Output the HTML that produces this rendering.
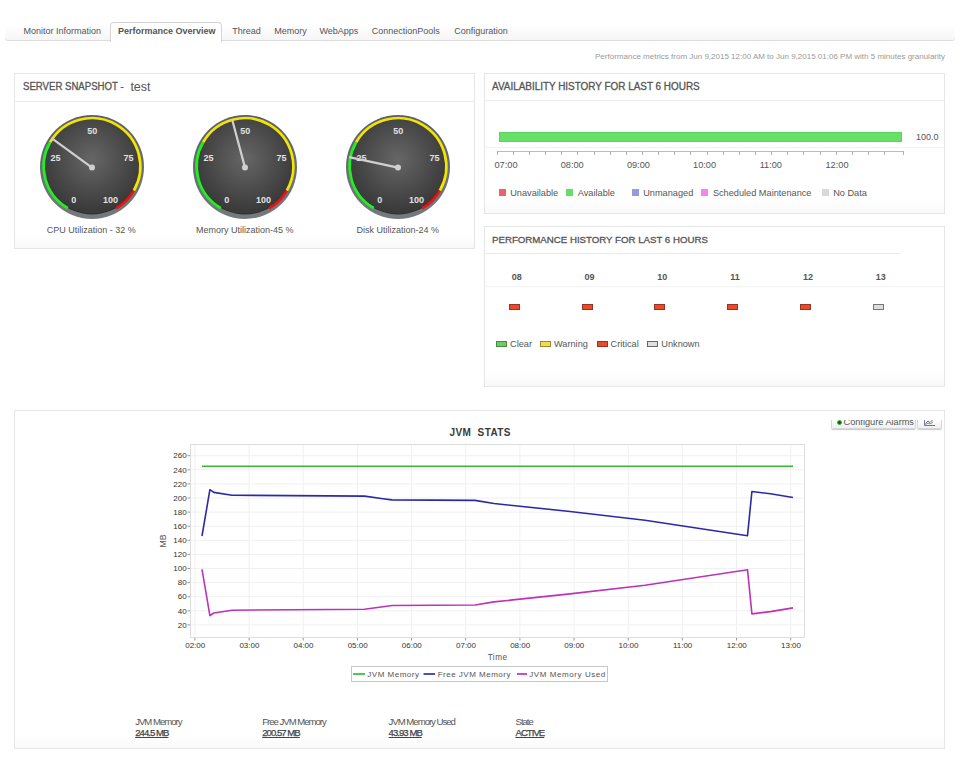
<!DOCTYPE html>
<html><head><meta charset="utf-8"><style>
html,body{margin:0;padding:0;}
body{width:965px;height:764px;position:relative;overflow:hidden;background:#fff;font-family:"Liberation Sans", sans-serif;}
.t{position:absolute;white-space:nowrap;font-family:"Liberation Sans", sans-serif;}
</style></head><body>
<div style="position:absolute;left:5px;top:27px;width:950px;height:14px;box-sizing:border-box;border-bottom:1px solid #dcdcdc;background:linear-gradient(#fdfdfd,#f6f6f6);border-radius:0 0 3px 3px"></div>
<div style="position:absolute;left:110px;top:22px;width:112px;height:20px;box-sizing:border-box;border:1px solid #d4d4d4;border-bottom:none;background:#fff;border-radius:4px 4px 0 0"></div>
<div class="t" style="left:23.5px;top:27.0px;font-size:9px;line-height:9px;color:#555;font-weight:normal;">Monitor Information</div>
<div class="t" style="left:118.0px;top:27.0px;font-size:9px;line-height:9px;color:#555;font-weight:bold;">Performance Overview</div>
<div class="t" style="left:232.2px;top:27.0px;font-size:9px;line-height:9px;color:#555;font-weight:normal;">Thread</div>
<div class="t" style="left:274.2px;top:27.0px;font-size:9px;line-height:9px;color:#555;font-weight:normal;">Memory</div>
<div class="t" style="left:319.5px;top:27.0px;font-size:9px;line-height:9px;color:#555;font-weight:normal;">WebApps</div>
<div class="t" style="left:371.8px;top:27.0px;font-size:9px;line-height:9px;color:#555;font-weight:normal;">ConnectionPools</div>
<div class="t" style="left:454.2px;top:27.0px;font-size:9px;line-height:9px;color:#555;font-weight:normal;">Configuration</div>
<div class="t" style="right:20.0px;top:52.7px;font-size:8px;line-height:8px;color:#999;font-weight:normal;">Performance metrics from Jun 9,2015 12:00 AM to Jun 9,2015 01:06 PM with 5 minutes granularity</div>
<div style="position:absolute;left:14px;top:73px;width:461px;height:176px;box-sizing:border-box;border:1px solid #e6e6e6;background:linear-gradient(#fff calc(100% - 14px),#f9f9f9)"></div>
<div style="position:absolute;left:14px;top:101px;width:461px;height:1px;box-sizing:border-box;background:#ececec"></div>
<div class="t" style="left:23.0px;top:82.1px;font-size:10px;line-height:10px;color:#555;font-weight:normal;-webkit-text-stroke:0.3px #555;transform:scaleX(0.961);transform-origin:0 0">SERVER SNAPSHOT -</div>
<div class="t" style="left:130.4px;top:80.9px;font-size:12.5px;line-height:12.5px;color:#555;font-weight:normal;">test</div>
<div style="position:absolute;left:484px;top:73px;width:461px;height:141px;box-sizing:border-box;border:1px solid #e6e6e6;background:linear-gradient(#fff calc(100% - 14px),#f9f9f9)"></div>
<div style="position:absolute;left:484px;top:100px;width:461px;height:1px;box-sizing:border-box;background:#ececec"></div>
<div class="t" style="left:491.5px;top:82.0px;font-size:10px;line-height:10px;color:#555;font-weight:normal;-webkit-text-stroke:0.3px #555;transform:scaleX(0.992);transform-origin:0 0">AVAILABILITY HISTORY FOR LAST 6 HOURS</div>
<div style="position:absolute;left:484px;top:226px;width:461px;height:161px;box-sizing:border-box;border:1px solid #e6e6e6;background:linear-gradient(#fff calc(100% - 14px),#f9f9f9)"></div>
<div style="position:absolute;left:484px;top:253px;width:416px;height:1px;box-sizing:border-box;background:#ececec"></div>
<div style="position:absolute;left:485px;top:286px;width:459px;height:1px;box-sizing:border-box;background:#f3f3f3"></div>
<div class="t" style="left:491.5px;top:234.5px;font-size:9.6px;line-height:9.6px;color:#555;font-weight:normal;-webkit-text-stroke:0.3px #555;transform:scaleX(1.008);transform-origin:0 0">PERFORMANCE HISTORY FOR LAST 6 HOURS</div>
<div style="position:absolute;left:14px;top:410px;width:931px;height:339px;box-sizing:border-box;border:1px solid #e6e6e6;background:linear-gradient(#fff calc(100% - 14px),#f9f9f9)"></div>
<svg style="position:absolute;left:32px;top:107px" width="120" height="120" viewBox="32 107 120 120"><defs><radialGradient id="g92" cx="92" cy="159" r="52" gradientUnits="userSpaceOnUse"><stop offset="0" stop-color="#666"/><stop offset="1" stop-color="#3a3a3a"/></radialGradient><linearGradient id="r92" x1="0" y1="0" x2="0" y2="1"><stop offset="0" stop-color="#5c5c6a"/><stop offset="1" stop-color="#767a7c"/></linearGradient></defs><circle cx="92" cy="167" r="52" fill="url(#r92)"/><circle cx="92" cy="166.4" r="48.1" fill="#2e2e30"/><circle cx="92" cy="166.4" r="47.1" fill="url(#g92)"/><path d="M67.85,208.23 A48.3,48.3 0 0 1 50.17,142.25" fill="none" stroke="#22ee22" stroke-width="2.7"/><path d="M50.17,142.25 A48.3,48.3 0 0 1 133.83,190.55" fill="none" stroke="#f2e600" stroke-width="2.7"/><path d="M133.83,190.55 A48.3,48.3 0 0 1 116.15,208.23" fill="none" stroke="#ee1111" stroke-width="2.7"/><text x="73.7" y="202.9" text-anchor="middle" font-family="Liberation Sans" font-weight="bold" font-size="9" fill="#e2e2e2">0</text><text x="55.6" y="161.3" text-anchor="middle" font-family="Liberation Sans" font-weight="bold" font-size="9" fill="#e2e2e2">25</text><text x="92.2" y="134.1" text-anchor="middle" font-family="Liberation Sans" font-weight="bold" font-size="9" fill="#e2e2e2">50</text><text x="128.4" y="161.3" text-anchor="middle" font-family="Liberation Sans" font-weight="bold" font-size="9" fill="#e2e2e2">75</text><text x="110.6" y="202.9" text-anchor="middle" font-family="Liberation Sans" font-weight="bold" font-size="9" fill="#e2e2e2">100</text><line x1="92" y1="167.6" x2="51.55" y2="138.21" stroke="#d0d0d0" stroke-width="2.2"/><circle cx="92" cy="167.6" r="3" fill="#d0d0d0"/></svg>
<svg style="position:absolute;left:184.6px;top:107px" width="120" height="120" viewBox="184.6 107 120 120"><defs><radialGradient id="g244" cx="244.6" cy="159" r="52" gradientUnits="userSpaceOnUse"><stop offset="0" stop-color="#666"/><stop offset="1" stop-color="#3a3a3a"/></radialGradient><linearGradient id="r244" x1="0" y1="0" x2="0" y2="1"><stop offset="0" stop-color="#5c5c6a"/><stop offset="1" stop-color="#767a7c"/></linearGradient></defs><circle cx="244.6" cy="167" r="52" fill="url(#r244)"/><circle cx="244.6" cy="166.4" r="48.1" fill="#2e2e30"/><circle cx="244.6" cy="166.4" r="47.1" fill="url(#g244)"/><path d="M220.45,208.23 A48.3,48.3 0 0 1 202.77,142.25" fill="none" stroke="#22ee22" stroke-width="2.7"/><path d="M202.77,142.25 A48.3,48.3 0 0 1 286.43,190.55" fill="none" stroke="#f2e600" stroke-width="2.7"/><path d="M286.43,190.55 A48.3,48.3 0 0 1 268.75,208.23" fill="none" stroke="#ee1111" stroke-width="2.7"/><text x="226.3" y="202.9" text-anchor="middle" font-family="Liberation Sans" font-weight="bold" font-size="9" fill="#e2e2e2">0</text><text x="208.2" y="161.3" text-anchor="middle" font-family="Liberation Sans" font-weight="bold" font-size="9" fill="#e2e2e2">25</text><text x="244.8" y="134.1" text-anchor="middle" font-family="Liberation Sans" font-weight="bold" font-size="9" fill="#e2e2e2">50</text><text x="281.0" y="161.3" text-anchor="middle" font-family="Liberation Sans" font-weight="bold" font-size="9" fill="#e2e2e2">75</text><text x="263.2" y="202.9" text-anchor="middle" font-family="Liberation Sans" font-weight="bold" font-size="9" fill="#e2e2e2">100</text><line x1="244.6" y1="167.6" x2="231.66" y2="119.30" stroke="#d0d0d0" stroke-width="2.2"/><circle cx="244.6" cy="167.6" r="3" fill="#d0d0d0"/></svg>
<svg style="position:absolute;left:337.8px;top:107px" width="120" height="120" viewBox="337.8 107 120 120"><defs><radialGradient id="g397" cx="397.8" cy="159" r="52" gradientUnits="userSpaceOnUse"><stop offset="0" stop-color="#666"/><stop offset="1" stop-color="#3a3a3a"/></radialGradient><linearGradient id="r397" x1="0" y1="0" x2="0" y2="1"><stop offset="0" stop-color="#5c5c6a"/><stop offset="1" stop-color="#767a7c"/></linearGradient></defs><circle cx="397.8" cy="167" r="52" fill="url(#r397)"/><circle cx="397.8" cy="166.4" r="48.1" fill="#2e2e30"/><circle cx="397.8" cy="166.4" r="47.1" fill="url(#g397)"/><path d="M373.65,208.23 A48.3,48.3 0 0 1 355.97,142.25" fill="none" stroke="#22ee22" stroke-width="2.7"/><path d="M355.97,142.25 A48.3,48.3 0 0 1 439.63,190.55" fill="none" stroke="#f2e600" stroke-width="2.7"/><path d="M439.63,190.55 A48.3,48.3 0 0 1 421.95,208.23" fill="none" stroke="#ee1111" stroke-width="2.7"/><text x="379.5" y="202.9" text-anchor="middle" font-family="Liberation Sans" font-weight="bold" font-size="9" fill="#e2e2e2">0</text><text x="361.4" y="161.3" text-anchor="middle" font-family="Liberation Sans" font-weight="bold" font-size="9" fill="#e2e2e2">25</text><text x="398.0" y="134.1" text-anchor="middle" font-family="Liberation Sans" font-weight="bold" font-size="9" fill="#e2e2e2">50</text><text x="434.2" y="161.3" text-anchor="middle" font-family="Liberation Sans" font-weight="bold" font-size="9" fill="#e2e2e2">75</text><text x="416.4" y="202.9" text-anchor="middle" font-family="Liberation Sans" font-weight="bold" font-size="9" fill="#e2e2e2">100</text><line x1="397.8" y1="167.6" x2="348.89" y2="157.20" stroke="#d0d0d0" stroke-width="2.2"/><circle cx="397.8" cy="167.6" r="3" fill="#d0d0d0"/></svg>
<div class="t" style="left:-108.8px;width:400px;text-align:center;top:226.2px;font-size:9px;line-height:9px;color:#555;font-weight:normal;">CPU Utilization - 32 %</div>
<div class="t" style="left:44.8px;width:400px;text-align:center;top:226.2px;font-size:9px;line-height:9px;color:#555;font-weight:normal;">Memory Utilization-45 %</div>
<div class="t" style="left:197.8px;width:400px;text-align:center;top:226.2px;font-size:9px;line-height:9px;color:#555;font-weight:normal;">Disk Utilization-24 %</div>
<div style="position:absolute;left:499px;top:132px;width:403px;height:10px;box-sizing:border-box;background:#66e066;border:1px solid #5cd55c"></div>
<div class="t" style="left:916.0px;top:132.6px;font-size:9px;line-height:9px;color:#555;font-weight:normal;">100.0</div>
<div style="position:absolute;left:485px;top:147px;width:459px;height:1px;box-sizing:border-box;background:#f2f2f2"></div>
<div style="position:absolute;left:497px;top:151px;width:407px;height:1px;box-sizing:border-box;background:#b9b9c9"></div>
<div style="position:absolute;left:496.60px;top:151px;width:1px;height:4px;background:#b0b0b0"></div>
<div style="position:absolute;left:512.75px;top:151px;width:1px;height:4px;background:#b0b0b0"></div>
<div style="position:absolute;left:528.90px;top:151px;width:1px;height:4px;background:#b0b0b0"></div>
<div style="position:absolute;left:545.05px;top:151px;width:1px;height:4px;background:#b0b0b0"></div>
<div style="position:absolute;left:561.20px;top:151px;width:1px;height:4px;background:#b0b0b0"></div>
<div style="position:absolute;left:577.35px;top:151px;width:1px;height:4px;background:#b0b0b0"></div>
<div style="position:absolute;left:593.50px;top:151px;width:1px;height:4px;background:#b0b0b0"></div>
<div style="position:absolute;left:609.65px;top:151px;width:1px;height:4px;background:#b0b0b0"></div>
<div style="position:absolute;left:625.80px;top:151px;width:1px;height:4px;background:#b0b0b0"></div>
<div style="position:absolute;left:641.95px;top:151px;width:1px;height:4px;background:#b0b0b0"></div>
<div style="position:absolute;left:658.10px;top:151px;width:1px;height:4px;background:#b0b0b0"></div>
<div style="position:absolute;left:674.25px;top:151px;width:1px;height:4px;background:#b0b0b0"></div>
<div style="position:absolute;left:690.40px;top:151px;width:1px;height:4px;background:#b0b0b0"></div>
<div style="position:absolute;left:706.55px;top:151px;width:1px;height:4px;background:#b0b0b0"></div>
<div style="position:absolute;left:722.70px;top:151px;width:1px;height:4px;background:#b0b0b0"></div>
<div style="position:absolute;left:738.85px;top:151px;width:1px;height:4px;background:#b0b0b0"></div>
<div style="position:absolute;left:755.00px;top:151px;width:1px;height:4px;background:#b0b0b0"></div>
<div style="position:absolute;left:771.15px;top:151px;width:1px;height:4px;background:#b0b0b0"></div>
<div style="position:absolute;left:787.30px;top:151px;width:1px;height:4px;background:#b0b0b0"></div>
<div style="position:absolute;left:803.45px;top:151px;width:1px;height:4px;background:#b0b0b0"></div>
<div style="position:absolute;left:819.60px;top:151px;width:1px;height:4px;background:#b0b0b0"></div>
<div style="position:absolute;left:835.75px;top:151px;width:1px;height:4px;background:#b0b0b0"></div>
<div style="position:absolute;left:851.90px;top:151px;width:1px;height:4px;background:#b0b0b0"></div>
<div style="position:absolute;left:868.05px;top:151px;width:1px;height:4px;background:#b0b0b0"></div>
<div style="position:absolute;left:884.20px;top:151px;width:1px;height:4px;background:#b0b0b0"></div>
<div style="position:absolute;left:903px;top:151px;width:1px;height:4px;box-sizing:border-box;background:#b0b0b0"></div>
<div class="t" style="left:306.0px;width:400px;text-align:center;top:160.8px;font-size:9.2px;line-height:9.2px;color:#555;font-weight:normal;">07:00</div>
<div class="t" style="left:372.2px;width:400px;text-align:center;top:160.8px;font-size:9.2px;line-height:9.2px;color:#555;font-weight:normal;">08:00</div>
<div class="t" style="left:438.4px;width:400px;text-align:center;top:160.8px;font-size:9.2px;line-height:9.2px;color:#555;font-weight:normal;">09:00</div>
<div class="t" style="left:504.6px;width:400px;text-align:center;top:160.8px;font-size:9.2px;line-height:9.2px;color:#555;font-weight:normal;">10:00</div>
<div class="t" style="left:570.8px;width:400px;text-align:center;top:160.8px;font-size:9.2px;line-height:9.2px;color:#555;font-weight:normal;">11:00</div>
<div class="t" style="left:637.0px;width:400px;text-align:center;top:160.8px;font-size:9.2px;line-height:9.2px;color:#555;font-weight:normal;">12:00</div>
<div style="position:absolute;left:499px;top:189px;width:7px;height:7px;box-sizing:border-box;background:#e8636b"></div>
<div class="t" style="left:510.2px;top:188.6px;font-size:9.2px;line-height:9.2px;color:#555;font-weight:normal;">Unavailable</div>
<div style="position:absolute;left:566px;top:189px;width:7px;height:7px;box-sizing:border-box;background:#66dd66"></div>
<div class="t" style="left:577.8px;top:188.6px;font-size:9.2px;line-height:9.2px;color:#555;font-weight:normal;">Available</div>
<div style="position:absolute;left:632px;top:189px;width:7px;height:7px;box-sizing:border-box;background:#9999dd"></div>
<div class="t" style="left:643.2px;top:188.6px;font-size:9.2px;line-height:9.2px;color:#555;font-weight:normal;">Unmanaged</div>
<div style="position:absolute;left:701px;top:189px;width:7px;height:7px;box-sizing:border-box;background:#ee88ee"></div>
<div class="t" style="left:712.9px;top:188.6px;font-size:9.2px;line-height:9.2px;color:#555;font-weight:normal;">Scheduled Maintenance</div>
<div style="position:absolute;left:822px;top:189px;width:7px;height:7px;box-sizing:border-box;background:#d9d9d9"></div>
<div class="t" style="left:833.2px;top:188.6px;font-size:9.2px;line-height:9.2px;color:#555;font-weight:normal;">No Data</div>
<div class="t" style="left:316.7px;width:400px;text-align:center;top:273.0px;font-size:9px;line-height:9px;color:#555;font-weight:bold;">08</div>
<div class="t" style="left:389.5px;width:400px;text-align:center;top:273.0px;font-size:9px;line-height:9px;color:#555;font-weight:bold;">09</div>
<div class="t" style="left:462.3px;width:400px;text-align:center;top:273.0px;font-size:9px;line-height:9px;color:#555;font-weight:bold;">10</div>
<div class="t" style="left:535.1px;width:400px;text-align:center;top:273.0px;font-size:9px;line-height:9px;color:#555;font-weight:bold;">11</div>
<div class="t" style="left:607.9px;width:400px;text-align:center;top:273.0px;font-size:9px;line-height:9px;color:#555;font-weight:bold;">12</div>
<div class="t" style="left:680.7px;width:400px;text-align:center;top:273.0px;font-size:9px;line-height:9px;color:#555;font-weight:bold;">13</div>
<div style="position:absolute;left:509px;top:304px;width:11px;height:6px;box-sizing:border-box;background:#e84a2a;border:1px solid #993322"></div>
<div style="position:absolute;left:582px;top:304px;width:11px;height:6px;box-sizing:border-box;background:#e84a2a;border:1px solid #993322"></div>
<div style="position:absolute;left:654px;top:304px;width:11px;height:6px;box-sizing:border-box;background:#e84a2a;border:1px solid #993322"></div>
<div style="position:absolute;left:727px;top:304px;width:11px;height:6px;box-sizing:border-box;background:#e84a2a;border:1px solid #993322"></div>
<div style="position:absolute;left:800px;top:304px;width:11px;height:6px;box-sizing:border-box;background:#e84a2a;border:1px solid #993322"></div>
<div style="position:absolute;left:873px;top:304px;width:11px;height:6px;box-sizing:border-box;background:#dddddd;border:1px solid #777"></div>
<div style="position:absolute;left:496px;top:341px;width:11px;height:6px;box-sizing:border-box;background:#77c766;border:1px solid #3f8f3f"></div>
<div class="t" style="left:510.0px;top:339.5px;font-size:9.2px;line-height:9.2px;color:#555;font-weight:normal;">Clear</div>
<div style="position:absolute;left:540px;top:341px;width:11px;height:6px;box-sizing:border-box;background:#f5d955;border:1px solid #a08a2a"></div>
<div class="t" style="left:554.0px;top:339.5px;font-size:9.2px;line-height:9.2px;color:#555;font-weight:normal;">Warning</div>
<div style="position:absolute;left:597px;top:341px;width:11px;height:6px;box-sizing:border-box;background:#e84a2a;border:1px solid #993322"></div>
<div class="t" style="left:610.6px;top:339.5px;font-size:9.2px;line-height:9.2px;color:#555;font-weight:normal;">Critical</div>
<div style="position:absolute;left:647px;top:341px;width:11px;height:6px;box-sizing:border-box;background:#e0e0e0;border:1px solid #666"></div>
<div class="t" style="left:661.3px;top:339.5px;font-size:9.2px;line-height:9.2px;color:#555;font-weight:normal;">Unknown</div>
<div class="t" style="left:280.2px;width:400px;text-align:center;top:427.8px;font-size:10px;line-height:10px;color:#3a3a3a;font-weight:bold;letter-spacing:0.4px">JVM&nbsp; STATS</div>
<div style="position:absolute;left:831px;top:420px;width:83px;height:8px;overflow:hidden;border:1px solid #d8d8d8;border-top:none;border-radius:0 0 2px 2px;box-shadow:0 1px 1px #c8c8c8;background:linear-gradient(#fff,#f0f0f0)"><div style="position:absolute;left:5px;top:0px;width:3px;height:3px;border-radius:50%;background:#1e5a1e;border:0.5px solid #3a3"></div><div class="t" style="left:11.5px;top:-2.2px;font-size:9.2px;line-height:9px;color:#555">Configure Alarms</div></div>
<div style="position:absolute;left:917px;top:420px;width:23px;height:8px;overflow:hidden;border:1px solid #d8d8d8;border-top:none;border-radius:0 0 2px 2px;box-shadow:0 1px 1px #c8c8c8;background:linear-gradient(#fff,#f0f0f0)"><svg style="position:absolute;left:6px;top:-1px" width="11" height="7"><polyline points="0.5,0 0.5,6.5 11,6.5" fill="none" stroke="#5a7aa8" stroke-width="1"/><polyline points="1.5,4.5 4,2 6,3.5 9,0.5" fill="none" stroke="#c05050" stroke-width="1"/><polyline points="1.5,5.5 4,4 6,5 9,3" fill="none" stroke="#40a0a0" stroke-width="1"/></svg></div>
<svg style="position:absolute;left:0;top:0" width="965" height="764"><line x1="190.5" y1="624.9" x2="804.5" y2="624.9" stroke="#f0f0f0" stroke-width="1"/><line x1="187.5" y1="624.9" x2="190.5" y2="624.9" stroke="#999" stroke-width="1"/><line x1="190.5" y1="610.8" x2="804.5" y2="610.8" stroke="#f0f0f0" stroke-width="1"/><line x1="187.5" y1="610.8" x2="190.5" y2="610.8" stroke="#999" stroke-width="1"/><line x1="190.5" y1="596.7" x2="804.5" y2="596.7" stroke="#f0f0f0" stroke-width="1"/><line x1="187.5" y1="596.7" x2="190.5" y2="596.7" stroke="#999" stroke-width="1"/><line x1="190.5" y1="582.6" x2="804.5" y2="582.6" stroke="#f0f0f0" stroke-width="1"/><line x1="187.5" y1="582.6" x2="190.5" y2="582.6" stroke="#999" stroke-width="1"/><line x1="190.5" y1="568.5" x2="804.5" y2="568.5" stroke="#f0f0f0" stroke-width="1"/><line x1="187.5" y1="568.5" x2="190.5" y2="568.5" stroke="#999" stroke-width="1"/><line x1="190.5" y1="554.4" x2="804.5" y2="554.4" stroke="#f0f0f0" stroke-width="1"/><line x1="187.5" y1="554.4" x2="190.5" y2="554.4" stroke="#999" stroke-width="1"/><line x1="190.5" y1="540.3" x2="804.5" y2="540.3" stroke="#f0f0f0" stroke-width="1"/><line x1="187.5" y1="540.3" x2="190.5" y2="540.3" stroke="#999" stroke-width="1"/><line x1="190.5" y1="526.2" x2="804.5" y2="526.2" stroke="#f0f0f0" stroke-width="1"/><line x1="187.5" y1="526.2" x2="190.5" y2="526.2" stroke="#999" stroke-width="1"/><line x1="190.5" y1="512.1" x2="804.5" y2="512.1" stroke="#f0f0f0" stroke-width="1"/><line x1="187.5" y1="512.1" x2="190.5" y2="512.1" stroke="#999" stroke-width="1"/><line x1="190.5" y1="498.0" x2="804.5" y2="498.0" stroke="#f0f0f0" stroke-width="1"/><line x1="187.5" y1="498.0" x2="190.5" y2="498.0" stroke="#999" stroke-width="1"/><line x1="190.5" y1="483.9" x2="804.5" y2="483.9" stroke="#f0f0f0" stroke-width="1"/><line x1="187.5" y1="483.9" x2="190.5" y2="483.9" stroke="#999" stroke-width="1"/><line x1="190.5" y1="469.8" x2="804.5" y2="469.8" stroke="#f0f0f0" stroke-width="1"/><line x1="187.5" y1="469.8" x2="190.5" y2="469.8" stroke="#999" stroke-width="1"/><line x1="190.5" y1="455.7" x2="804.5" y2="455.7" stroke="#f0f0f0" stroke-width="1"/><line x1="187.5" y1="455.7" x2="190.5" y2="455.7" stroke="#999" stroke-width="1"/><line x1="194.9" y1="444.5" x2="194.9" y2="637.5" stroke="#f0f0f0" stroke-width="1"/><line x1="194.9" y1="637.5" x2="194.9" y2="640.5" stroke="#999" stroke-width="1"/><line x1="249.1" y1="444.5" x2="249.1" y2="637.5" stroke="#f0f0f0" stroke-width="1"/><line x1="249.1" y1="637.5" x2="249.1" y2="640.5" stroke="#999" stroke-width="1"/><line x1="303.2" y1="444.5" x2="303.2" y2="637.5" stroke="#f0f0f0" stroke-width="1"/><line x1="303.2" y1="637.5" x2="303.2" y2="640.5" stroke="#999" stroke-width="1"/><line x1="357.4" y1="444.5" x2="357.4" y2="637.5" stroke="#f0f0f0" stroke-width="1"/><line x1="357.4" y1="637.5" x2="357.4" y2="640.5" stroke="#999" stroke-width="1"/><line x1="411.5" y1="444.5" x2="411.5" y2="637.5" stroke="#f0f0f0" stroke-width="1"/><line x1="411.5" y1="637.5" x2="411.5" y2="640.5" stroke="#999" stroke-width="1"/><line x1="465.7" y1="444.5" x2="465.7" y2="637.5" stroke="#f0f0f0" stroke-width="1"/><line x1="465.7" y1="637.5" x2="465.7" y2="640.5" stroke="#999" stroke-width="1"/><line x1="519.9" y1="444.5" x2="519.9" y2="637.5" stroke="#f0f0f0" stroke-width="1"/><line x1="519.9" y1="637.5" x2="519.9" y2="640.5" stroke="#999" stroke-width="1"/><line x1="574.0" y1="444.5" x2="574.0" y2="637.5" stroke="#f0f0f0" stroke-width="1"/><line x1="574.0" y1="637.5" x2="574.0" y2="640.5" stroke="#999" stroke-width="1"/><line x1="628.2" y1="444.5" x2="628.2" y2="637.5" stroke="#f0f0f0" stroke-width="1"/><line x1="628.2" y1="637.5" x2="628.2" y2="640.5" stroke="#999" stroke-width="1"/><line x1="682.3" y1="444.5" x2="682.3" y2="637.5" stroke="#f0f0f0" stroke-width="1"/><line x1="682.3" y1="637.5" x2="682.3" y2="640.5" stroke="#999" stroke-width="1"/><line x1="736.5" y1="444.5" x2="736.5" y2="637.5" stroke="#f0f0f0" stroke-width="1"/><line x1="736.5" y1="637.5" x2="736.5" y2="640.5" stroke="#999" stroke-width="1"/><line x1="790.7" y1="444.5" x2="790.7" y2="637.5" stroke="#f0f0f0" stroke-width="1"/><line x1="790.7" y1="637.5" x2="790.7" y2="640.5" stroke="#999" stroke-width="1"/><rect x="190.5" y="444.5" width="614.0" height="193.0" fill="none" stroke="#dddddd" stroke-width="1"/><line x1="202" y1="466.3" x2="793" y2="466.3" stroke="#33bb33" stroke-width="1.6"/><polyline fill="none" stroke="#2a2aa8" stroke-width="1.6" stroke-linejoin="round" points="202.0,536.0 209.9,489.7 213.8,492.4 232.0,495.2 364.5,496.1 383.0,498.7 392.0,499.9 475.0,500.4 494.0,503.5 570.0,511.5 645.0,520.2 747.5,535.7 751.9,491.5 770.4,493.8 793.0,497.5"/><polyline fill="none" stroke="#bb33bb" stroke-width="1.6" stroke-linejoin="round" points="202.0,569.4 209.9,615.7 213.8,613.0 232.0,610.2 364.5,609.3 383.0,606.7 392.0,605.5 475.0,605.0 494.0,601.9 570.0,593.9 645.0,585.2 747.5,569.7 751.9,613.9 770.4,611.6 793.0,607.9"/><rect x="351.5" y="666.5" width="256" height="15" fill="#fff" stroke="#c8c8c8" stroke-width="1"/><line x1="353" y1="674" x2="365" y2="674" stroke="#22bb22" stroke-width="1.6"/><line x1="423.5" y1="674" x2="435" y2="674" stroke="#2222aa" stroke-width="1.6"/><line x1="517" y1="674" x2="527" y2="674" stroke="#bb22bb" stroke-width="1.6"/></svg>
<div class="t" style="right:778.4px;top:621.6px;font-size:8px;line-height:8px;color:#333;font-weight:normal;font-family:"Liberation Mono",monospace;letter-spacing:0.55px">20</div>
<div class="t" style="right:778.4px;top:607.5px;font-size:8px;line-height:8px;color:#333;font-weight:normal;font-family:"Liberation Mono",monospace;letter-spacing:0.55px">40</div>
<div class="t" style="right:778.4px;top:593.4px;font-size:8px;line-height:8px;color:#333;font-weight:normal;font-family:"Liberation Mono",monospace;letter-spacing:0.55px">60</div>
<div class="t" style="right:778.4px;top:579.3px;font-size:8px;line-height:8px;color:#333;font-weight:normal;font-family:"Liberation Mono",monospace;letter-spacing:0.55px">80</div>
<div class="t" style="right:778.4px;top:565.2px;font-size:8px;line-height:8px;color:#333;font-weight:normal;font-family:"Liberation Mono",monospace;letter-spacing:0.55px">100</div>
<div class="t" style="right:778.4px;top:551.1px;font-size:8px;line-height:8px;color:#333;font-weight:normal;font-family:"Liberation Mono",monospace;letter-spacing:0.55px">120</div>
<div class="t" style="right:778.4px;top:537.0px;font-size:8px;line-height:8px;color:#333;font-weight:normal;font-family:"Liberation Mono",monospace;letter-spacing:0.55px">140</div>
<div class="t" style="right:778.4px;top:522.9px;font-size:8px;line-height:8px;color:#333;font-weight:normal;font-family:"Liberation Mono",monospace;letter-spacing:0.55px">160</div>
<div class="t" style="right:778.4px;top:508.8px;font-size:8px;line-height:8px;color:#333;font-weight:normal;font-family:"Liberation Mono",monospace;letter-spacing:0.55px">180</div>
<div class="t" style="right:778.4px;top:494.7px;font-size:8px;line-height:8px;color:#333;font-weight:normal;font-family:"Liberation Mono",monospace;letter-spacing:0.55px">200</div>
<div class="t" style="right:778.4px;top:480.6px;font-size:8px;line-height:8px;color:#333;font-weight:normal;font-family:"Liberation Mono",monospace;letter-spacing:0.55px">220</div>
<div class="t" style="right:778.4px;top:466.5px;font-size:8px;line-height:8px;color:#333;font-weight:normal;font-family:"Liberation Mono",monospace;letter-spacing:0.55px">240</div>
<div class="t" style="right:778.4px;top:452.4px;font-size:8px;line-height:8px;color:#333;font-weight:normal;font-family:"Liberation Mono",monospace;letter-spacing:0.55px">260</div>
<div class="t" style="left:-4.8px;width:400px;text-align:center;top:642.1px;font-size:8px;line-height:8px;color:#333;font-weight:normal;font-family:"Liberation Mono",monospace;letter-spacing:0.3px">02:00</div>
<div class="t" style="left:49.4px;width:400px;text-align:center;top:642.1px;font-size:8px;line-height:8px;color:#333;font-weight:normal;font-family:"Liberation Mono",monospace;letter-spacing:0.3px">03:00</div>
<div class="t" style="left:103.5px;width:400px;text-align:center;top:642.1px;font-size:8px;line-height:8px;color:#333;font-weight:normal;font-family:"Liberation Mono",monospace;letter-spacing:0.3px">04:00</div>
<div class="t" style="left:157.7px;width:400px;text-align:center;top:642.1px;font-size:8px;line-height:8px;color:#333;font-weight:normal;font-family:"Liberation Mono",monospace;letter-spacing:0.3px">05:00</div>
<div class="t" style="left:211.8px;width:400px;text-align:center;top:642.1px;font-size:8px;line-height:8px;color:#333;font-weight:normal;font-family:"Liberation Mono",monospace;letter-spacing:0.3px">06:00</div>
<div class="t" style="left:266.0px;width:400px;text-align:center;top:642.1px;font-size:8px;line-height:8px;color:#333;font-weight:normal;font-family:"Liberation Mono",monospace;letter-spacing:0.3px">07:00</div>
<div class="t" style="left:320.2px;width:400px;text-align:center;top:642.1px;font-size:8px;line-height:8px;color:#333;font-weight:normal;font-family:"Liberation Mono",monospace;letter-spacing:0.3px">08:00</div>
<div class="t" style="left:374.3px;width:400px;text-align:center;top:642.1px;font-size:8px;line-height:8px;color:#333;font-weight:normal;font-family:"Liberation Mono",monospace;letter-spacing:0.3px">09:00</div>
<div class="t" style="left:428.5px;width:400px;text-align:center;top:642.1px;font-size:8px;line-height:8px;color:#333;font-weight:normal;font-family:"Liberation Mono",monospace;letter-spacing:0.3px">10:00</div>
<div class="t" style="left:482.6px;width:400px;text-align:center;top:642.1px;font-size:8px;line-height:8px;color:#333;font-weight:normal;font-family:"Liberation Mono",monospace;letter-spacing:0.3px">11:00</div>
<div class="t" style="left:536.8px;width:400px;text-align:center;top:642.1px;font-size:8px;line-height:8px;color:#333;font-weight:normal;font-family:"Liberation Mono",monospace;letter-spacing:0.3px">12:00</div>
<div class="t" style="left:591.0px;width:400px;text-align:center;top:642.1px;font-size:8px;line-height:8px;color:#333;font-weight:normal;font-family:"Liberation Mono",monospace;letter-spacing:0.3px">13:00</div>
<div class="t" style="left:297.6px;width:400px;text-align:center;top:653.5px;font-size:8.2px;line-height:8.2px;color:#555;font-weight:normal;letter-spacing:0.5px">Time</div>
<div class="t" style="left:152.5px;top:537px;width:20px;text-align:center;font-size:8.6px;line-height:8px;color:#555;transform:rotate(-90deg)">MB</div>
<div class="t" style="left:367.3px;top:670.8px;font-size:8px;line-height:8px;color:#555;font-weight:normal;letter-spacing:0.5px">JVM Memory</div>
<div class="t" style="left:437.7px;top:670.8px;font-size:8px;line-height:8px;color:#555;font-weight:normal;letter-spacing:0.5px">Free JVM Memory</div>
<div class="t" style="left:529.3px;top:670.8px;font-size:8px;line-height:8px;color:#555;font-weight:normal;letter-spacing:0.57px">JVM Memory Used</div>
<div class="t" style="left:135.2px;top:717.1px;font-size:9.6px;line-height:9.6px;color:#555;font-weight:normal;letter-spacing:-1.02px">JVM Memory</div>
<div class="t" style="left:135.2px;top:728.3px;font-size:9.6px;line-height:9.6px;color:#444;font-weight:normal;letter-spacing:-0.98px;text-decoration:underline;-webkit-text-stroke:0.25px #444">244.5 MB</div>
<div class="t" style="left:262.2px;top:717.1px;font-size:9.6px;line-height:9.6px;color:#555;font-weight:normal;letter-spacing:-1.02px">Free JVM Memory</div>
<div class="t" style="left:262.2px;top:728.3px;font-size:9.6px;line-height:9.6px;color:#444;font-weight:normal;letter-spacing:-0.98px;text-decoration:underline;-webkit-text-stroke:0.25px #444">200.57 MB</div>
<div class="t" style="left:388.6px;top:717.1px;font-size:9.6px;line-height:9.6px;color:#555;font-weight:normal;letter-spacing:-1.02px">JVM Memory Used</div>
<div class="t" style="left:388.6px;top:728.3px;font-size:9.6px;line-height:9.6px;color:#444;font-weight:normal;letter-spacing:-0.98px;text-decoration:underline;-webkit-text-stroke:0.25px #444">43.93 MB</div>
<div class="t" style="left:515.5px;top:717.1px;font-size:9.6px;line-height:9.6px;color:#555;font-weight:normal;letter-spacing:-1.02px">State</div>
<div class="t" style="left:515.5px;top:728.3px;font-size:9.6px;line-height:9.6px;color:#444;font-weight:normal;letter-spacing:-0.98px;text-decoration:underline;-webkit-text-stroke:0.25px #444">ACTIVE</div>
</body></html>
